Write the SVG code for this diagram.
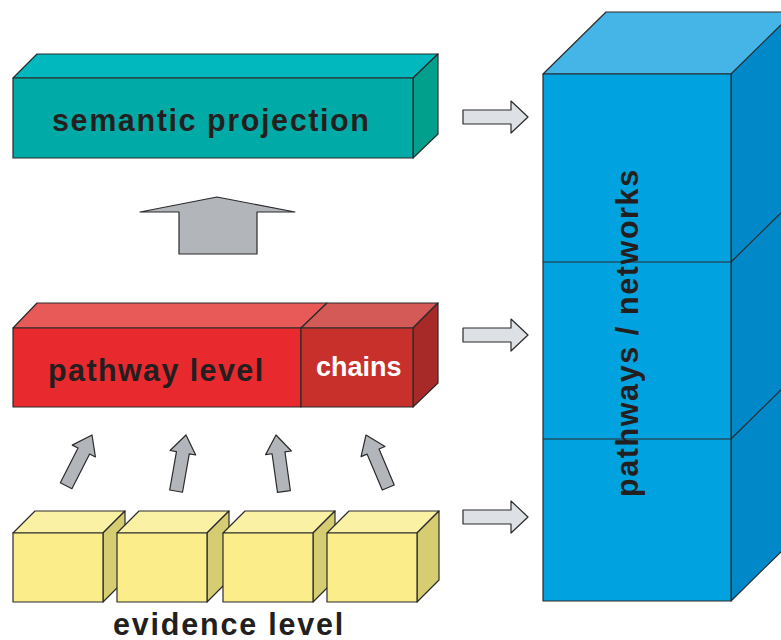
<svg xmlns="http://www.w3.org/2000/svg" width="781" height="640" viewBox="0 0 781 640">
<style>
.e{stroke:#2b2b2b;stroke-width:1.2;stroke-linejoin:round}
.lbl{font-family:"Liberation Sans",Arial,sans-serif;font-weight:bold;font-size:30.5px;fill:#231f20}
.ga{fill:#b2b5ba;stroke:#2b2b2b;stroke-width:1.2;stroke-linejoin:round}
.ra{fill:#dde0e4;stroke:#2b2b2b;stroke-width:1.2;stroke-linejoin:round}
</style>
<defs>
<path id="sa" d="M0,0 L13,18 L6.5,18 L6.5,57 L-6.5,57 L-6.5,18 L-13,18 Z"/>
<path id="ra" d="M463,-7 L511,-7 L511,-16 L528,0 L511,16 L511,7 L463,7 Z"/>
<g id="cube">
<polygon class="e" points="0,22 22,0 112,0 90,22" fill="#fbf1a4"/>
<polygon class="e" points="90,22 112,0 112,69 90,91" fill="#d6cd72"/>
<rect class="e" x="0" y="22" width="90" height="69" fill="#fbee8a"/>
</g>
</defs>
<rect width="781" height="640" fill="#ffffff"/>

<g id="tower">
<polygon class="e" points="543,74 606,12 800,12 737,74" fill="#45b4e6"/>
<polygon class="e" points="731,74 794,12 794,539 731,601" fill="#0088c9"/>
<line class="e" x1="731" y1="262" x2="794" y2="200"/>
<line class="e" x1="731" y1="439" x2="794" y2="377"/>
<rect class="e" x="543" y="74" width="188" height="527" fill="#00a3df"/>
<line class="e" x1="543" y1="262" x2="731" y2="262"/>
<line class="e" x1="543" y1="439" x2="731" y2="439"/>
<text class="lbl" transform="translate(638,497) rotate(-90)" letter-spacing="1.6">pathways / networks</text>
</g>

<g id="semantic">
<polygon class="e" points="13,78 37,54 438,54 413,78" fill="#00b8be"/>
<polygon class="e" points="413,78 438,54 438,134 413,158" fill="#00a08c"/>
<rect class="e" x="13" y="78" width="400" height="80" fill="#00aaa6"/>
<text class="lbl" x="52" y="131" letter-spacing="1.6">semantic projection</text>
</g>

<g id="pathway">
<polygon class="e" points="13,328 37,303 327,303 301,328" fill="#e85a58"/>
<polygon class="e" points="301,328 327,303 438,303 413,328" fill="#d35a56"/>
<polygon class="e" points="413,328 438,303 438,383 413,407" fill="#a82a28"/>
<rect class="e" x="13" y="328" width="288" height="79" fill="#e8292e"/>
<rect class="e" x="301" y="328" width="112" height="79" fill="#c8302c"/>
<text class="lbl" x="48" y="381" letter-spacing="1.4">pathway level</text>
<text class="lbl" x="316" y="376" style="fill:#ffffff;font-size:27px">chains</text>
</g>

<g id="evidence">
<use href="#cube" x="13" y="511"/>
<use href="#cube" x="117" y="511"/>
<use href="#cube" x="223" y="511"/>
<use href="#cube" x="327" y="511"/>
<text class="lbl" x="113" y="635" letter-spacing="1.8">evidence level</text>
</g>

<g id="connectors">
<path class="ga" d="M140,212 L217,197 L295,212 L257,212 L257,254 L179,254 L179,212 Z"/>
<use href="#sa" class="ga" transform="translate(92,435) rotate(27)"/>
<use href="#sa" class="ga" transform="translate(186,435) rotate(10)"/>
<use href="#sa" class="ga" transform="translate(276,435) rotate(-8)"/>
<use href="#sa" class="ga" transform="translate(366,435) rotate(-23)"/>
<use href="#ra" class="ra" transform="translate(0,117)"/>
<use href="#ra" class="ra" transform="translate(0,335)"/>
<use href="#ra" class="ra" transform="translate(0,517)"/>
</g>
</svg>
